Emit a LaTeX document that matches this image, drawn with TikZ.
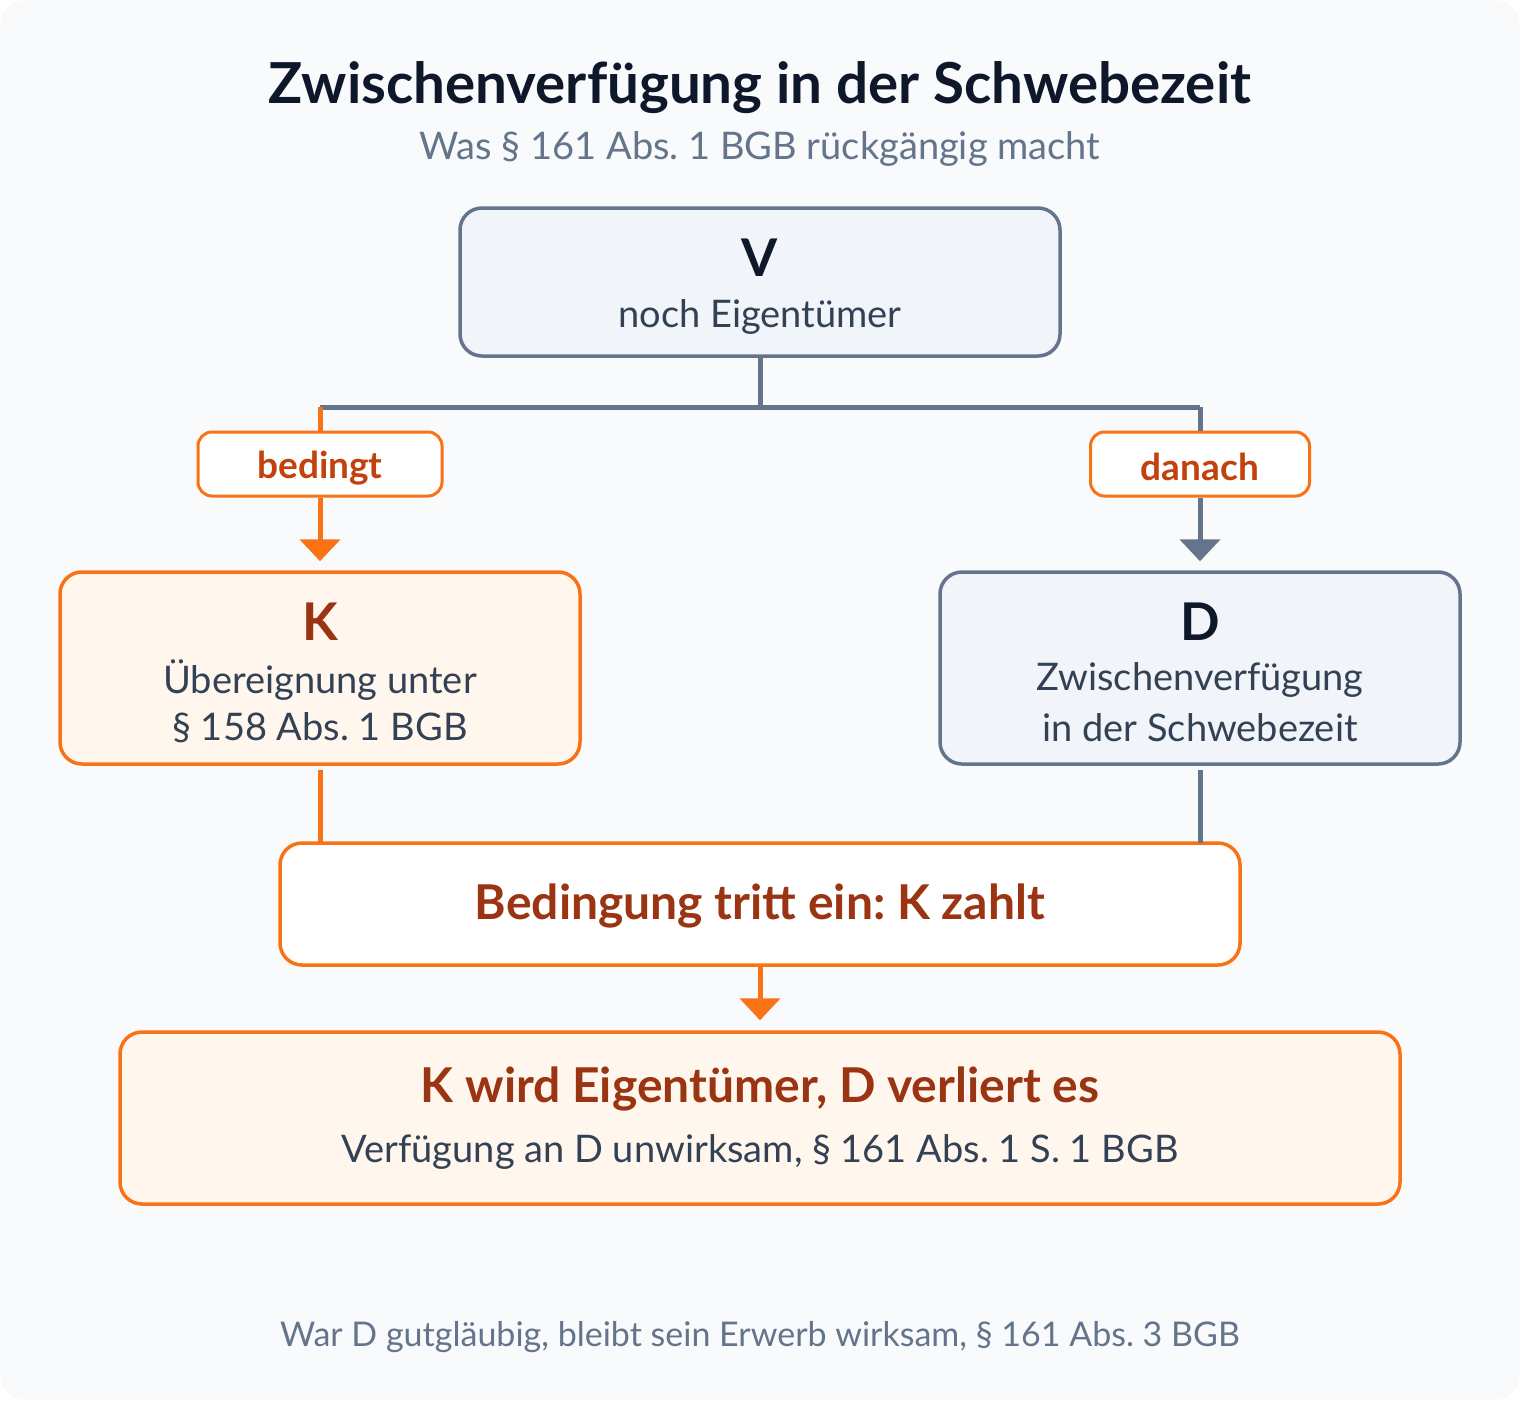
\documentclass[tikz,border=0pt]{standalone}
\usepackage{fontspec}
\setmainfont{Lato}
\usetikzlibrary{arrows.meta}
\definecolor{bg}{HTML}{F8FAFC}
\definecolor{slatebox}{HTML}{F1F5F9}
\definecolor{slateline}{HTML}{64748B}
\definecolor{darktext}{HTML}{0F172A}
\definecolor{bodytext}{HTML}{334155}
\definecolor{orangeline}{HTML}{F97316}
\definecolor{orangefill}{HTML}{FFF7ED}
\definecolor{labeltext}{HTML}{C2410C}
\definecolor{rusttext}{HTML}{9A3412}
\frenchspacing
\tikzset{
  box/.style={draw, line width=3.5pt, rounded corners=22pt, minimum width=#1, align=center, inner sep=0pt},
  graybox/.style={box=#1, draw=slateline, fill=slatebox},
  orangebox/.style={box=#1, draw=orangeline, fill=orangefill},
  whitebox/.style={box=#1, draw=orangeline, fill=white},
  tag/.style={draw=orangeline, fill=white, line width=3pt, rounded corners=14pt, minimum height=64pt, inner sep=0pt},
  tagtext/.style={font=\fontsize{37}{44}\selectfont\bfseries, text=labeltext},
  bigletter/.style={font=\fontsize{52}{60}\selectfont\bfseries},
  bodyline/.style={font=\fontsize{38}{46}\selectfont, text=bodytext},
  conn/.style={line width=5pt},
  arr/.style={conn, -{Triangle[width=40pt,length=22pt]}},
}
\begin{document}
\begin{tikzpicture}[x=1pt,y=-1pt]
\useasboundingbox (0,0) rectangle (1520,1400);
\fill[bg, rounded corners=26pt] (0,0) rectangle (1520,1400);
\node[font=\fontsize{56.5}{64}\selectfont\bfseries, text=darktext] (title) at (760,88) {Zwischenverfügung in der Schwebezeit};
\node[font=\fontsize{38}{46}\selectfont, text=slateline] (sub) at (760,149) {Was § 161 Abs. 1 BGB rückgängig macht};
% V box
\node[graybox=600pt, minimum height=148pt] (V) at (760,282) {};
\node[bigletter, text=darktext] (Vt) at (760,258) {V};
\node[bodyline] (Vs) at (760,317) {noch Eigentümer};
% K box
\node[orangebox=520pt, minimum height=192pt] (K) at (320,668) {};
\node[bigletter, text=rusttext] (Kt) at (320,622) {K};
\node[bodyline] (Ks1) at (320,680) {Übereignung unter};
\node[bodyline] (Ks2) at (320,728) {§ 158 Abs. 1 BGB};
% D box
\node[graybox=520pt, minimum height=192pt] (D) at (1200,668) {};
\node[bigletter, text=darktext] (Dt) at (1200,622) {D};
\node[bodyline] (Ds1) at (1200,680) {Zwischenverfügung};
\node[bodyline] (Ds2) at (1200,728) {in der Schwebezeit};
% junction coordinates
\coordinate (jm) at (760,407);
\coordinate (jl) at (320,407);
\coordinate (jr) at (1200,407);
% labels
\node[tag, minimum width=244pt] (bed) at (320,464) {};
\node[tagtext] (bedt) at (320,468) {bedingt};
\node[tag, minimum width=219pt] (dan) at (1200,464) {};
\node[tagtext] (dant) at (1200,467) {danach};
% tree lines
\draw[conn, slateline] (V.south) -- (jm);
\draw[conn, slateline] (jl) -- (jr);
\draw[conn, orangeline] (jl) -- (bed.north);
\draw[conn, slateline] (jr) -- (dan.north);
\draw[arr, orangeline, shorten >=9pt] (bed.south) -- (K.north);
\draw[arr, slateline, shorten >=9pt] (dan.south) -- (D.north);
% Bedingung box
\node[whitebox=960pt, minimum height=122pt] (B) at (760,904) {};
\node[font=\fontsize{48}{56}\selectfont\bfseries, text=rusttext] (Bt) at (760,906) {Bedingung tritt ein: K zahlt};
\coordinate (Bl) at (320,843);
\coordinate (Br) at (1200,843);
\draw[conn, orangeline, shorten <=4pt] (K.south) -- (Bl);
\draw[conn, slateline, shorten <=4pt] (D.south) -- (Br);
% result box
\node[orangebox=1280pt, minimum height=172pt] (R) at (760,1118) {};
\node[font=\fontsize{48}{56}\selectfont\bfseries, text=rusttext] (Rt) at (760,1089) {K wird Eigentümer, D verliert es};
\node[bodyline] (Rs) at (760,1152) {Verfügung an D unwirksam, § 161 Abs. 1 S. 1 BGB};
\draw[arr, orangeline, shorten >=10pt] (B.south) -- (R.north);
% footer
\node[font=\fontsize{34}{40}\selectfont, text=slateline] (foot) at (760,1337) {War D gutgläubig, bleibt sein Erwerb wirksam, § 161 Abs. 3 BGB};
\end{tikzpicture}
\end{document}
